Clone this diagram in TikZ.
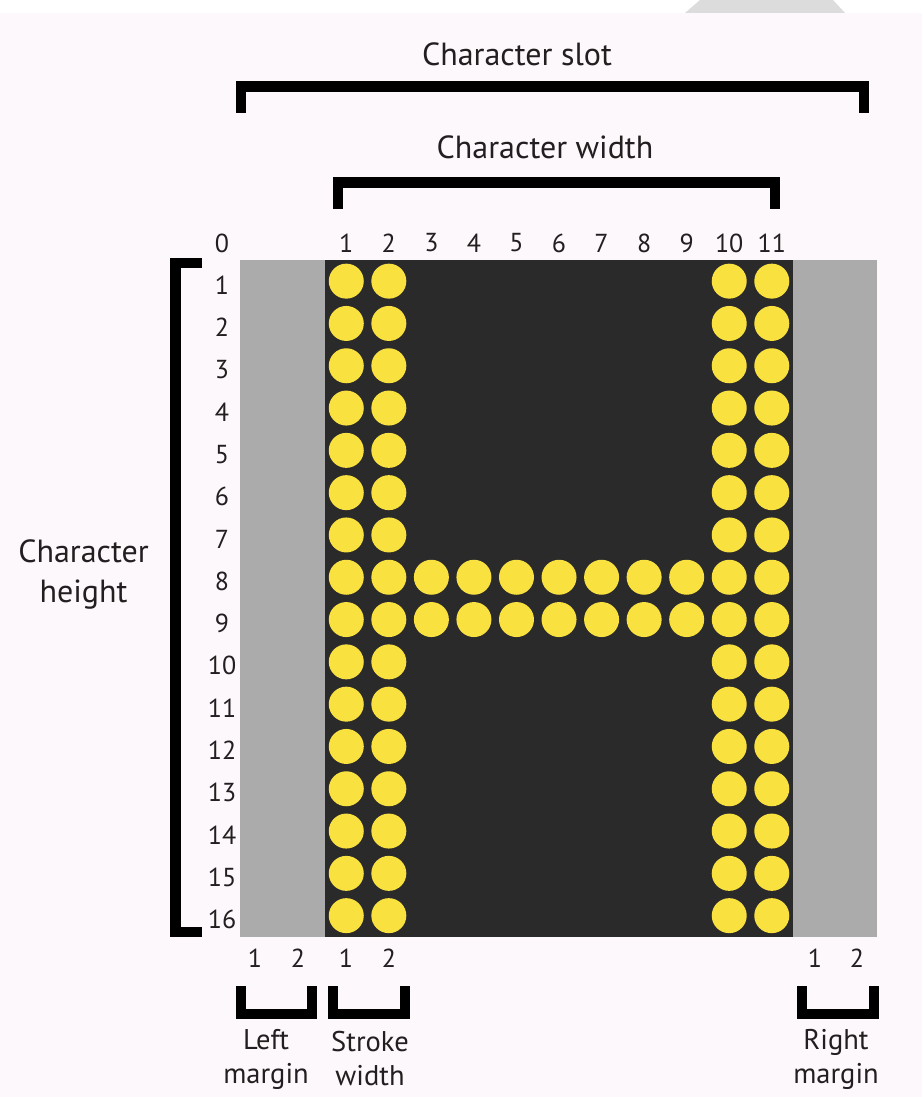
\documentclass[tikz,border=0pt]{standalone}
\usepackage{fontspec}
\setmainfont{PT Sans}
\usetikzlibrary{positioning}
\definecolor{pagebg}{HTML}{FCF8FB}
\definecolor{tabgray}{HTML}{DCDCDC}
\definecolor{margingray}{HTML}{ABABAB}
\definecolor{panel}{HTML}{2B2A2B}
\definecolor{ledyellow}{HTML}{F9E140}
\definecolor{txtgray}{HTML}{231F20}

\begin{document}
\begin{tikzpicture}[
  x=1pt, y=-1pt,
  led/.style={circle, fill=ledyellow, minimum size=35pt, inner sep=0pt},
  num/.style={font=\fontsize{26}{28}\selectfont, text=txtgray, inner sep=0pt},
  caption/.style={font=\fontsize{32}{40}\selectfont, align=center,
    text=txtgray, inner sep=0pt},
  small caption/.style={font=\fontsize{28.5}{34}\selectfont, align=center,
    text=txtgray, inner sep=0pt},
  bracket/.style={line width=10.5pt, line join=miter, draw=black},
]
\useasboundingbox (0,0) rectangle (922,1097);

% Page
\fill[white] (0,0) rectangle (922,13);
\fill[tabgray] (700,0) -- (833,0) -- (845,13) -- (685,13) -- cycle;
\fill[pagebg] (0,13) rectangle (922,1097);

% Slot and panel
\fill[margingray] (240,260) rectangle (877,937);
\fill[panel] (325,260) rectangle (793,937);

% LEDs
\foreach \c in {1,2,10,11}
  \foreach \r in {1,...,16}
    \node[led] (d\c-\r) at ({325+42.55*(\c-0.5)}, {260+42.3*(\r-0.5)}) {};
\foreach \c in {3,...,9}
  \foreach \r in {8,9}
    \node[led] (d\c-\r) at ({325+42.55*(\c-0.5)}, {260+42.3*(\r-0.5)}) {};

% Column and row numbers
\node[num] (col0) at (222,243) {0};
\foreach \c in {1,...,11}
  \node[num] (col\c) at ({325+42.55*(\c-0.5)}, 243) {\c};
\foreach \r in {1,...,16}
  \node[num] (row\r) at (222, {264+42.3*(\r-0.5)}) {\r};

% Character slot
\draw[bracket] (241,113) -- (241,86.5) -- (864,86.5) -- (864,113);
\node[caption] (slot) at (517,54) {Character slot};

% Character width
\draw[bracket] (338,209) -- (338,182.5) -- (775,182.5) -- (775,209);
\node[caption] (width) at (545,147) {Character width};

% Character height
\draw[bracket] (202,263) -- (175.5,263) -- (175.5,932) -- (202,932);
\node[caption] (height) at (83.5,574) {Character\\height};

% Margins and stroke
\node[num] (lm1) at (255,958) {1};
\node[num] (lm2) at (298,958) {2};
\node[num] (sw1) at (346,958) {1};
\node[num] (sw2) at (389,958) {2};
\node[num] (rm1) at (815,958) {1};
\node[num] (rm2) at (857,958) {2};

\draw[bracket] (241,986) -- (241,1014) -- (312,1014) -- (312,986);
\draw[bracket] (333,986) -- (333,1014) -- (405,1014) -- (405,986);
\draw[bracket] (802,986) -- (802,1014) -- (874,1014) -- (874,986);

\node[small caption] (lmtext) at (266,1059) {Left\\margin};
\node[small caption] (swtext) at (370,1059) {Stroke\\width};
\node[small caption] (rmtext) at (836,1059) {Right\\margin};

\end{tikzpicture}
\end{document}
